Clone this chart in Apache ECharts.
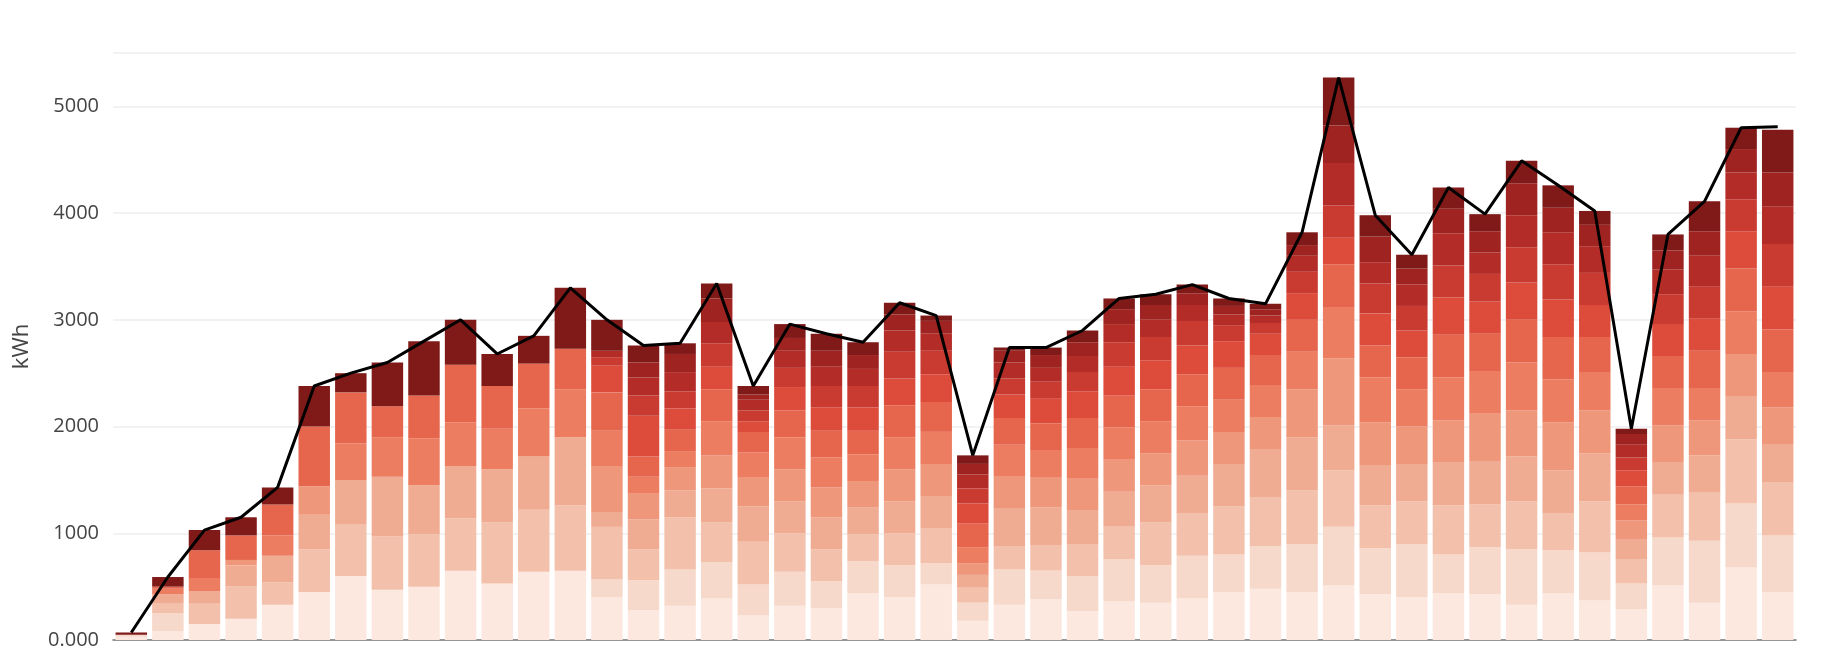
<!DOCTYPE html>
<html><head><meta charset="utf-8">
<script src="https://cdn.jsdelivr.net/npm/echarts@6/dist/echarts.min.js"></script>
<style>html,body{margin:0;padding:0;background:#fff}#c{width:1832px;height:666px}</style>
</head><body><div id="c"></div>
<script>
const days = Array.from({length:46},(_,i)=>'D'+(i+1));
const s1=[30,80,150,200,330,450,600,470,500,650,530,640,650,400,280,320,390,230,320,300,440,400,520,180,330,380,270,360,350,390,450,480,450,510,430,400,440,430,330,440,370,290,510,350,680,450];
const s2=[20,170,0,0,0,0,0,0,0,0,0,0,0,170,280,340,340,290,320,250,300,300,200,170,330,270,330,400,350,400,350,400,450,550,430,500,360,440,520,400,450,240,450,580,600,530];
const s3=[0,90,190,300,210,400,480,500,490,490,570,580,610,490,290,490,370,400,360,300,250,300,330,140,220,240,300,300,400,400,450,460,500,530,400,400,460,400,450,350,480,230,400,450,600,500];
const s4=[0,90,120,200,250,330,420,560,460,490,500,500,640,140,280,250,320,330,300,300,250,300,300,120,350,350,310,330,350,350,400,450,500,420,380,350,400,400,420,400,450,180,300,350,400,350];
const s5=[0,0,0,50,0,260,0,0,0,0,0,0,0,430,240,220,310,270,300,280,250,300,300,110,300,280,300,300,300,330,300,300,450,630,400,350,400,450,430,450,400,180,350,330,400,350];
const s6=[0,50,120,0,190,0,340,370,440,410,380,450,450,330,160,150,320,240,300,280,250,300,300,150,300,260,290,300,300,320,300,300,350,480,420,350,400,400,450,400,360,150,350,300,400,330];
const s7=[0,20,260,230,290,560,480,290,400,540,400,420,380,360,190,200,300,190,250,250,220,300,280,220,250,250,280,300,300,300,300,280,300,400,300,300,400,350,400,400,330,170,300,350,400,400];
const s8=[0,0,0,0,0,0,0,0,0,0,0,0,0,250,380,200,210,100,220,220,220,250,260,190,220,230,250,270,270,270,250,200,250,250,300,250,350,300,350,350,300,150,300,300,350,400];
const s9=[0,0,0,0,0,0,0,0,0,0,0,0,0,80,190,160,220,100,180,200,200,250,220,140,150,160,180,230,220,230,150,100,200,300,280,230,300,260,330,330,300,120,280,300,300,400];
const s10=[0,0,0,0,0,0,0,0,0,0,0,0,0,60,170,180,200,100,160,180,160,200,160,130,150,130,150,170,160,150,100,70,150,400,200,200,300,200,300,300,250,120,230,290,250,350];
const s11=[0,0,0,0,0,0,0,0,0,0,0,0,0,0,140,170,220,50,120,150,130,150,120,100,110,120,130,140,140,110,80,60,100,350,240,150,230,200,300,230,200,100,180,230,220,320];
const s12=[20,90,190,170,160,380,180,410,510,420,300,260,570,290,160,100,140,80,130,160,120,110,50,80,30,70,110,100,100,80,70,50,120,450,200,130,200,160,210,210,130,50,150,280,200,400];
const totals=[70,590,1030,1150,1430,2380,2500,2600,2800,3000,2680,2850,3300,3000,2760,2780,3340,2380,2960,2870,2790,3160,3040,1730,2740,2740,2900,3200,3240,3330,3200,3150,3820,5270,3980,3610,4240,3990,4490,4260,4020,1980,3800,4110,4800,4810];
const yTicks=[0,1000,2000,3000,4000,5000];
const colors=['#fce8df','#f7d9cb','#f3c1ab','#f0ac92','#ee977a','#ec7d60','#e6664d','#dd4c3b','#c93a30','#b42c27','#9f2421','#7f1a19'];
const segs=[s1,s2,s3,s4,s5,s6,s7,s8,s9,s10,s11,s12];
const series=segs.map((d,i)=>({type:'bar',stack:'t',data:d,barCategoryGap:'14%',itemStyle:{color:colors[i]},silent:true}));
series.push({type:'line',data:totals,symbol:'none',lineStyle:{color:'#000',width:3},z:10});
const chart=echarts.init(document.getElementById('c'));
chart.setOption({
  animation:false,
  grid:{left:113,right:36,top:53,bottom:26},
  xAxis:{type:'category',data:days,axisLabel:{show:false},axisTick:{show:false},axisLine:{lineStyle:{color:'#777',width:1.5}}},
  yAxis:{type:'value',min:0,max:5500,interval:1000,
    name:'kWh',nameLocation:'middle',nameGap:80,nameTextStyle:{fontSize:22,color:'#444',fontFamily:'Open Sans'},
    axisLabel:{fontSize:20,color:'#444',fontFamily:'Open Sans',margin:14,formatter:v=>yTicks.includes(v)?(v===0?'0.000':String(v)):''},
    splitLine:{lineStyle:{color:'#eee',width:1.5}},axisLine:{show:false},axisTick:{show:false}},
  series
});
</script></body></html>
